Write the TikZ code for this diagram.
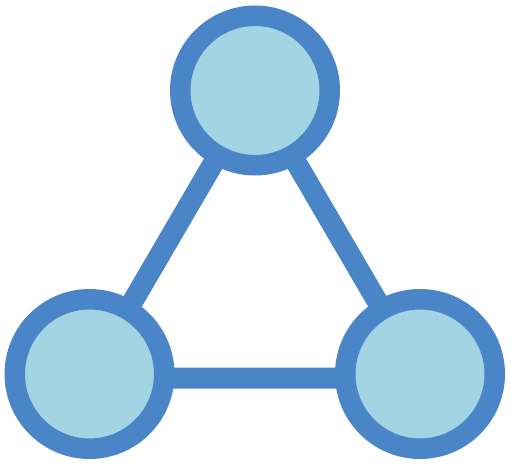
\documentclass[tikz,border=0pt]{standalone}
\definecolor{ringblue}{RGB}{74,133,200}
\definecolor{fillblue}{RGB}{162,212,228}
\tikzset{
  hub/.style={circle, draw=ringblue, fill=fillblue, line width=20.5pt, minimum size=149.5pt, inner sep=0pt},
  link/.style={draw=ringblue, line width=21pt}
}
\begin{document}
\begin{tikzpicture}[x=1pt,y=-1pt]
\useasboundingbox (0,0) rectangle (512,468);
% line vertices
\coordinate (pa) at (255,92);
\coordinate (pb) at (88,378);
\coordinate (pc) at (422,378);
\draw[link] (pa) -- (pb) -- (pc) -- cycle;
\node[hub] (top) at (255,90.5) {};
\node[hub] (left) at (89.5,374) {};
\node[hub] (right) at (420,374) {};
\end{tikzpicture}
\end{document}
